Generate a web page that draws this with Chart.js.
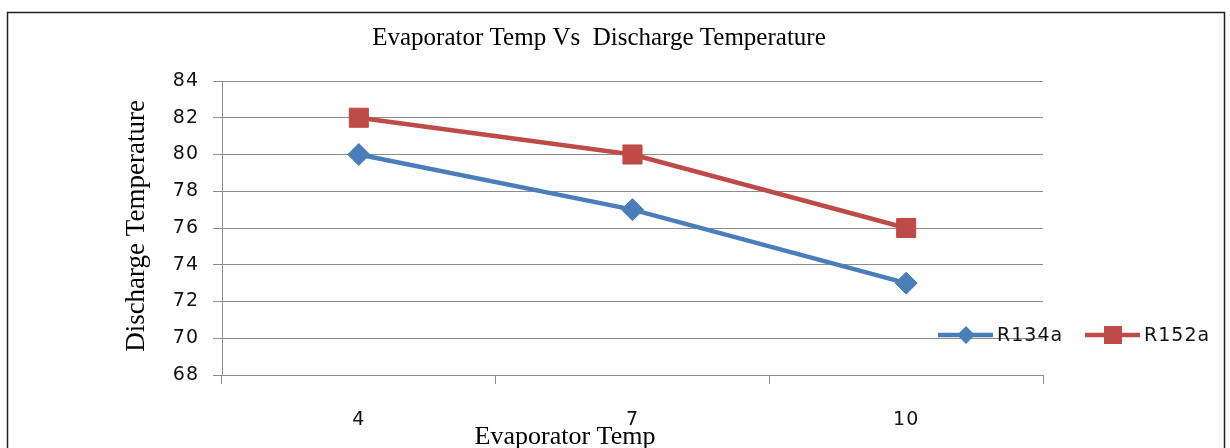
<!DOCTYPE html>
<html>
<head>
<meta charset="utf-8">
<script src="https://cdn.jsdelivr.net/npm/chart.js@4/dist/chart.umd.min.js"></script>
<style>
  html, body { margin: 0; padding: 0; background: #fff; }
  #wrap { width: 1230px; height: 448px; }
</style>
</head>
<body>
<div id="wrap"><canvas id="chart" width="1230" height="448"></canvas></div>
<script>
// chart data
const evapTemps = ['4', '7', '10'];
const r134a = [80, 77, 73];
const r152a = [82, 80, 76];
const yMin = 68;
const yMax = 84;
const yStep = 2;

const chartTitle = 'Evaporator Temp Vs  Discharge Temperature';
const xTitle = 'Evaporator Temp';
const yTitle = 'Discharge Temperature';

const blue = '#4A7EBB';
const red = '#BE4B48';
const gridGray = '#8c8c8c';
const tickFont = {family: 'DejaVu Sans', size: 19};

// frame, titles and legend drawn around the chart
const decorations = {
    id: 'decorations',
    beforeDraw(chart) {
        const ctx = chart.ctx;
        ctx.save();
        ctx.fillStyle = '#fff';
        ctx.fillRect(0, 0, chart.width, chart.height);
        ctx.strokeStyle = '#222';
        ctx.lineWidth = 1.5;
        ctx.strokeRect(7.5, 12.5, 1217, 460);
        ctx.restore();
        ctx.letterSpacing = '1px';
    },
    afterDraw(chart) {
        const ctx = chart.ctx;
        const area = chart.chartArea;
        ctx.save();
        ctx.letterSpacing = '0px';
        ctx.fillStyle = '#000';
        ctx.textAlign = 'center';
        ctx.textBaseline = 'alphabetic';
        ctx.font = '25px "Liberation Serif"';
        ctx.fillText(chartTitle, 599, 45);
        ctx.font = '26px "Liberation Serif"';
        ctx.fillText(xTitle, 565, 444);
        ctx.font = '27px "Liberation Serif"';
        ctx.translate(144, (area.top + area.bottom) / 2 - 2);
        ctx.rotate(-Math.PI / 2);
        ctx.fillText(yTitle, 0, 0);
        ctx.restore();

        // legend
        const legendX = [938, 1085];
        const y = 335;
        ctx.save();
        chart.data.datasets.forEach((ds, i) => {
            const x0 = legendX[i];
            const cx = x0 + 28;
            ctx.strokeStyle = ds.borderColor;
            ctx.lineWidth = 4.5;
            ctx.beginPath();
            ctx.moveTo(x0, y);
            ctx.lineTo(x0 + 55, y);
            ctx.stroke();
            ctx.fillStyle = ds.backgroundColor;
            ctx.beginPath();
            if (ds.pointStyle === 'rectRot') {
                ctx.moveTo(cx, y - 9);
                ctx.lineTo(cx + 9, y);
                ctx.lineTo(cx, y + 9);
                ctx.lineTo(cx - 9, y);
                ctx.closePath();
            } else {
                ctx.rect(cx - 9, y - 9, 18, 18);
            }
            ctx.fill();
            ctx.fillStyle = '#111';
            ctx.letterSpacing = '1px';
            ctx.font = '19px "DejaVu Sans"';
            ctx.textAlign = 'left';
            ctx.textBaseline = 'middle';
            ctx.fillText(ds.label, x0 + 59, y + 1);
        });
        ctx.restore();
    }
};

new Chart(document.getElementById('chart'), {
    type: 'line',
    data: {
        labels: evapTemps,
        datasets: [
            {
                label: 'R134a',
                data: r134a,
                borderColor: blue,
                backgroundColor: blue,
                borderWidth: 4.5,
                pointStyle: 'rectRot',
                pointRadius: 11,
                pointHoverRadius: 11,
                pointBorderWidth: 1
            },
            {
                label: 'R152a',
                data: r152a,
                borderColor: red,
                backgroundColor: red,
                borderWidth: 4.5,
                pointStyle: 'rect',
                pointRadius: 13.5,
                pointHoverRadius: 13.5,
                pointBorderWidth: 1
            }
        ]
    },
    options: {
        responsive: false,
        animation: false,
        layout: {
            padding: {top: 81, right: 187, left: 0, bottom: 0}
        },
        plugins: {
            legend: {display: false},
            title: {display: false},
            tooltip: {enabled: false}
        },
        scales: {
            x: {
                offset: true,
                afterFit: scale => { scale.height = 73; },
                grid: {
                    offset: true,
                    drawOnChartArea: false,
                    color: gridGray,
                    tickLength: 9
                },
                border: {color: gridGray},
                ticks: {
                    color: '#111',
                    padding: 25,
                    font: tickFont
                }
            },
            y: {
                min: yMin,
                max: yMax,
                afterFit: scale => { scale.width = 222; },
                grid: {
                    color: gridGray,
                    tickLength: 9
                },
                border: {color: gridGray},
                ticks: {
                    stepSize: yStep,
                    color: '#111',
                    padding: 14,
                    font: tickFont
                }
            }
        }
    },
    plugins: [decorations]
});
</script>
</body>
</html>
